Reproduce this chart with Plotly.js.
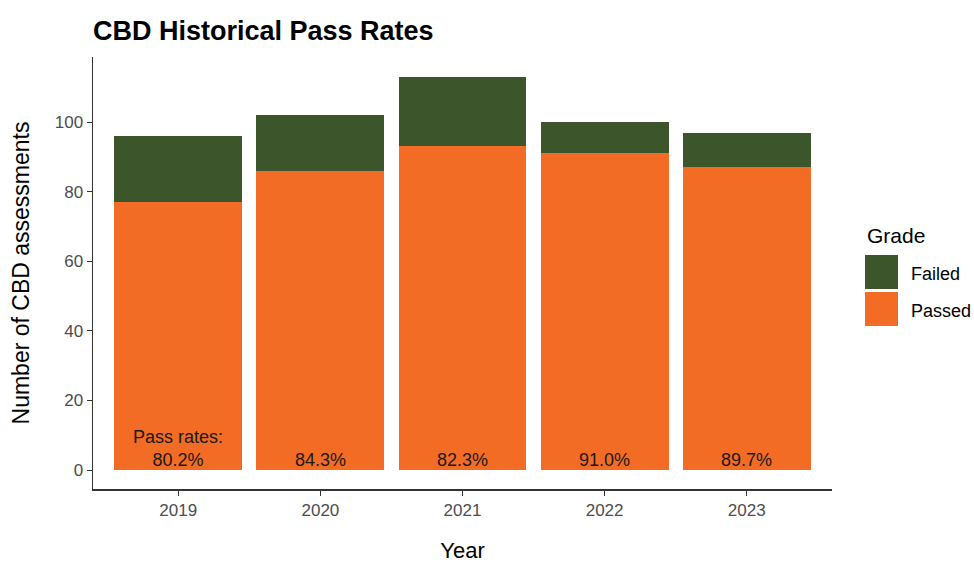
<!DOCTYPE html>
<html>
<head>
<meta charset="utf-8">
<script src="https://cdn.plot.ly/plotly-3.0.1.min.js"></script>
<style>html,body{margin:0;padding:0;background:#fff;}#chart{width:974px;height:563px;}</style>
</head>
<body>
<div id="chart"></div>
<script>
const years = ["2019", "2020", "2021", "2022", "2023"];
const passed = [77, 86, 93, 91, 87];
const failed = [19, 16, 20, 9, 10];
const passRateLabels = ["Pass rates:<br>80.2%", "84.3%", "82.3%", "91.0%", "89.7%"];
const legendNames = ["Failed", "Passed"];
const legendColors = ["#3C552B", "#F26C26"];

const FONT = "Liberation Sans, Arial, sans-serif";
const W = 974, H = 563, ML = 93, MR = 142, MT = 57, MB = 74;
const PW = W - ML - MR, PH = H - MT - MB;
const px = v => (v - ML) / PW;
const py = v => (H - MB - v) / PH;

const traces = [
  {
    type: "bar", name: "Passed", x: years, y: passed,
    marker: {color: legendColors[1], line: {width: 0}}
  },
  {
    type: "bar", name: "Failed", x: years, y: failed,
    marker: {color: legendColors[0], line: {width: 0}}
  }
];

const annotations = years.map((yr, i) => ({
  x: i, y: 0, xref: "x", yref: "y",
  text: passRateLabels[i], showarrow: false,
  yanchor: "bottom", xanchor: "center", yshift: -2,
  font: {family: FONT, size: 18, color: "#1a1a1a"}
}));

// manual legend
const shapes = [];
annotations.push({
  xref: "paper", yref: "paper", x: px(865), y: py(235),
  xanchor: "left", yanchor: "middle", showarrow: false,
  text: "Grade", font: {family: FONT, size: 21, color: "#000"}
});
legendNames.forEach((nm, i) => {
  const top = 255 + i * 37;
  shapes.push({
    type: "rect", xref: "paper", yref: "paper",
    x0: px(865), x1: px(898), y0: py(top), y1: py(top + 34),
    fillcolor: legendColors[i], line: {width: 0}
  });
  annotations.push({
    xref: "paper", yref: "paper", x: px(909), y: py(top + 19),
    xanchor: "left", yanchor: "middle", showarrow: false,
    text: nm, font: {family: FONT, size: 18, color: "#000"}
  });
});

const layout = {
  width: W, height: H,
  margin: {l: ML, r: MR, t: MT, b: MB},
  paper_bgcolor: "#ffffff", plot_bgcolor: "#ffffff",
  barmode: "stack", bargap: 0.1,
  font: {family: FONT},
  showlegend: false,
  title: {
    text: "<b>CBD Historical Pass Rates</b>",
    x: 0, xref: "paper", xanchor: "left",
    y: 1 - 31 / H, yref: "container", yanchor: "middle",
    font: {family: FONT, size: 27, color: "#000"}
  },
  xaxis: {
    type: "category", range: [-0.6, 4.6],
    showline: true, linecolor: "#333", linewidth: 1.5,
    ticks: "outside", ticklen: 5, tickcolor: "#333", tickwidth: 1,
    tickfont: {family: FONT, size: 17, color: "#4d4d4d"},
    showgrid: false, zeroline: false, fixedrange: true,
    title: {text: "Year", font: {family: FONT, size: 22, color: "#000"}, standoff: 24}
  },
  yaxis: {
    range: [-5.46, 118.7],
    tickvals: [0, 20, 40, 60, 80, 100],
    showline: true, linecolor: "#333", linewidth: 1.5,
    ticks: "outside", ticklen: 5, tickcolor: "#333", tickwidth: 1,
    tickfont: {family: FONT, size: 17, color: "#4d4d4d"},
    showgrid: false, zeroline: false, fixedrange: true,
    title: {text: "Number of CBD assessments", font: {family: FONT, size: 23, color: "#000"}, standoff: 18}
  },
  shapes: shapes,
  annotations: annotations
};

Plotly.newPlot("chart", traces, layout, {displayModeBar: false, staticPlot: true});
</script>
</body>
</html>
